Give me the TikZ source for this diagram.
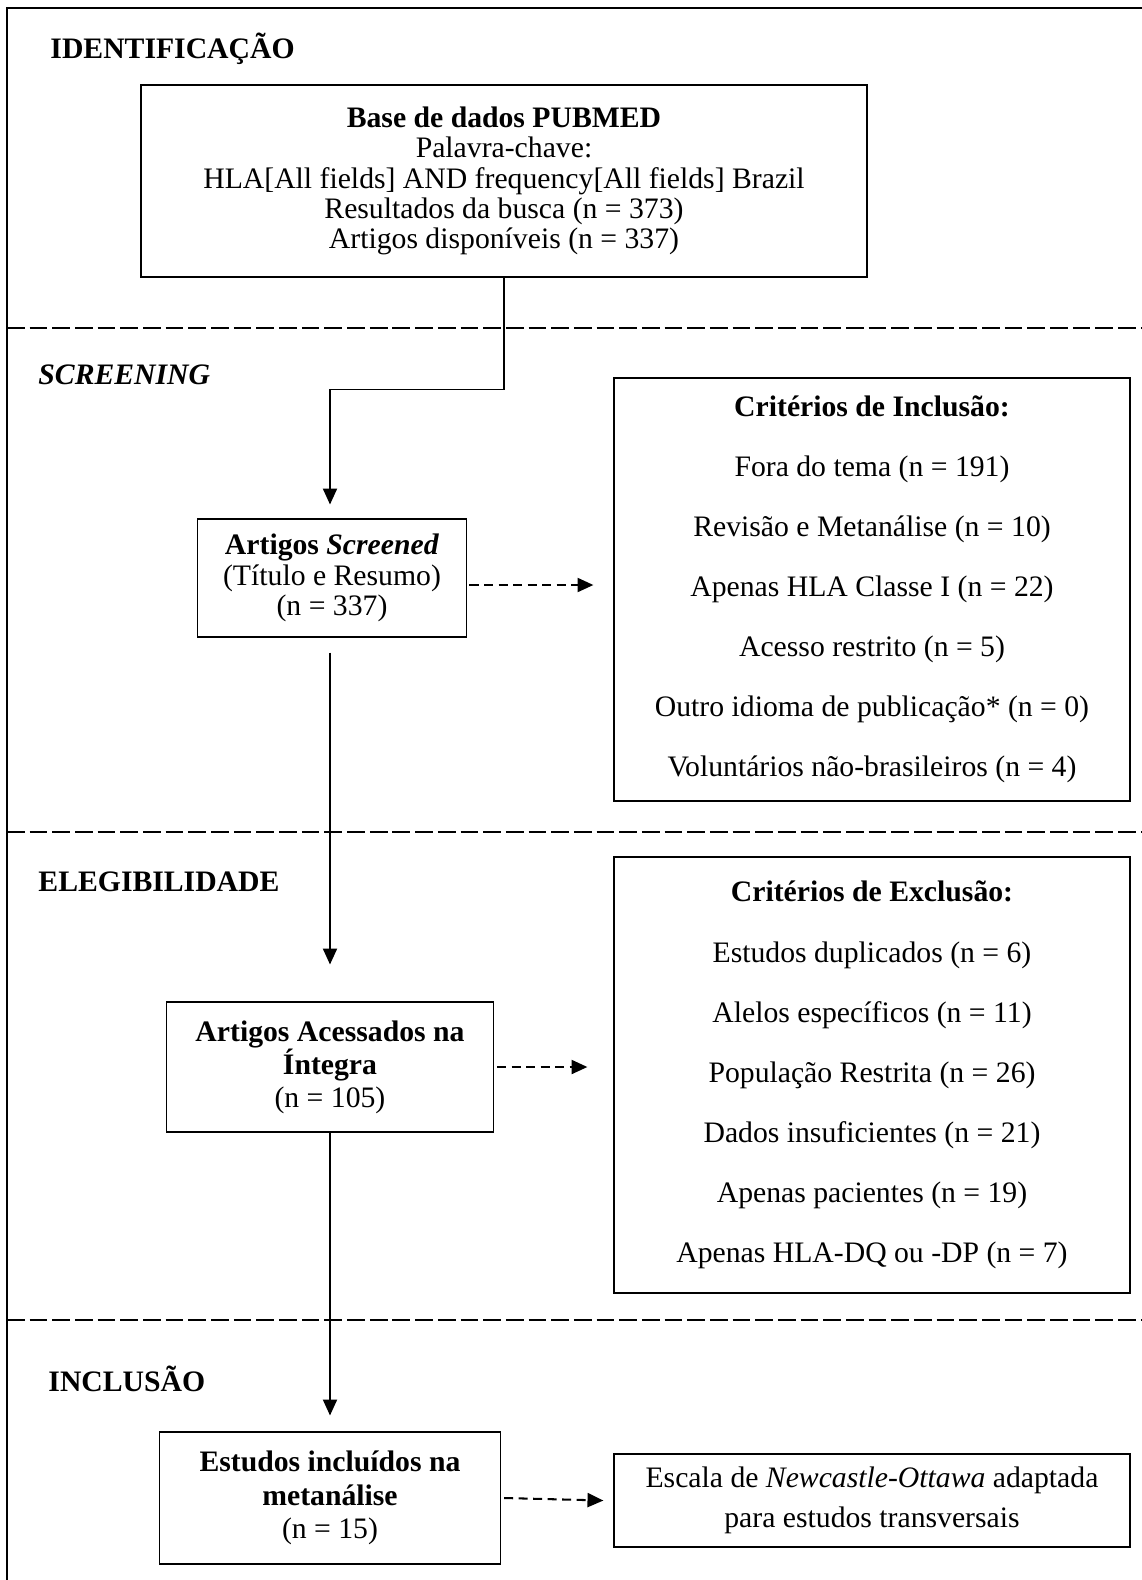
\documentclass[tikz,border=0pt]{standalone}
\usepackage{fontspec}
\setmainfont{Liberation Serif}
\usepackage{tikz}
\usetikzlibrary{arrows.meta,calc}

\begin{document}
\begin{tikzpicture}[
  x=0.441pt,y=-0.441pt,
  box/.style={draw,line width=0.5pt,inner sep=0pt,align=center,
              font=\fontsize{13.1}{13.5}\selectfont},
  crit/.style={box,minimum width=227.6pt,font=\fontsize{13.1}{26.5}\selectfont},
  fase/.style={anchor=west,inner sep=0pt,font=\fontsize{13.1}{14}\selectfont\bfseries},
  sep/.style={line width=1pt,dash pattern=on 7.8pt off 2.2pt},
  ar/.style={-{Triangle[length=7pt,width=6.2pt]},line width=0.75pt},
  dar/.style={ar,line width=0.9pt,dash pattern=on 4pt off 2.4pt}
]
\useasboundingbox (0,0) rectangle (1142,1580);

% moldura e separadores
\draw[line width=0.9pt] (7,1580) -- (7,8) -- (1142,8);
\draw[sep] (7,328) -- (1142,328);
\draw[sep] (7,832) -- (1142,832);
\draw[sep] (7,1320) -- (1142,1320);

% fases
\node[fase] (fid) at (50,49) {IDENTIFICAÇÃO};
\node[fase] (fsc) at (38,375) {\itshape SCREENING};
\node[fase] (fel) at (38,882) {ELEGIBILIDADE};
\node[fase] (fin) at (48,1379) {INCLUSÃO};

% caixas
\node[box,minimum width=320.2pt,minimum height=84.7pt,
      font=\fontsize{13.1}{13.3}\selectfont] (base) at (504,181)
  {\textbf{Base de dados PUBMED}\\Palavra-chave:\\
   HLA[All fields] AND frequency[All fields] Brazil\\
   Resultados da busca (n = 373)\\Artigos disponíveis (n = 337)};
\node[box,minimum width=119pt,minimum height=52pt] (screened) at (332,578)
  {\textbf{Artigos \textit{Screened}}\\(Título e Resumo)\\(n = 337)};
\node[crit,minimum height=186.5pt] (incl) at (872,589.5)
  {\textbf{Critérios de Inclusão:}\\Fora do tema (n = 191)\\
   Revisão e Metanálise (n = 10)\\Apenas HLA Classe I (n = 22)\\
   Acesso restrito (n = 5)\\Outro idioma de publicação* (n = 0)\\
   Voluntários não-brasileiros (n = 4)};
\node[box,minimum width=144.2pt,minimum height=57.3pt,
      font=\fontsize{13.1}{14.5}\selectfont] (acess) at (330,1067)
  {\textbf{Artigos Acessados na}\\\textbf{Íntegra}\\(n = 105)};
\node[crit,minimum height=192.3pt] (excl) at (872,1075)
  {\textbf{Critérios de Exclusão:}\\Estudos duplicados (n = 6)\\
   Alelos específicos (n = 11)\\População Restrita (n = 26)\\
   Dados insuficientes (n = 21)\\Apenas pacientes (n = 19)\\
   Apenas HLA-DQ ou -DP (n = 7)};
\node[box,minimum width=150.4pt,minimum height=58.2pt,
      font=\fontsize{13.1}{14.8}\selectfont] (estudos) at (330,1498)
  {\textbf{Estudos incluídos na}\\\textbf{metanálise}\\(n = 15)};
\node[box,minimum width=227.6pt,minimum height=41pt,
      font=\fontsize{13.1}{17.6}\selectfont] (escala) at (872,1500.5)
  {Escala de \textit{Newcastle-Ottawa} adaptada\\para estudos transversais};

% ligacoes
\draw[ar] (base.south) -- ++(0,112) -| ($(acess.north |- screened.north)+(0,-14)$);
\draw[ar] ($(acess.north |- screened.south)+(0,15)$) -- ($(acess.north)+(0,-37)$);
\draw[ar] (acess.south) -- ($(estudos.north)+(0,-16)$);
\draw[dar] ($(screened.east)+(2,7)$) -- ($(incl.west |- screened.east)+(-20,7)$);
\draw[dar] ($(acess.east)+(3,0)$) -- ($(excl.west |- acess.east)+(-26,0)$);
\draw[dar] ($(estudos.east)+(3,0)$) -- ($(escala.west)+(-10,0)$);
\end{tikzpicture}
\end{document}
